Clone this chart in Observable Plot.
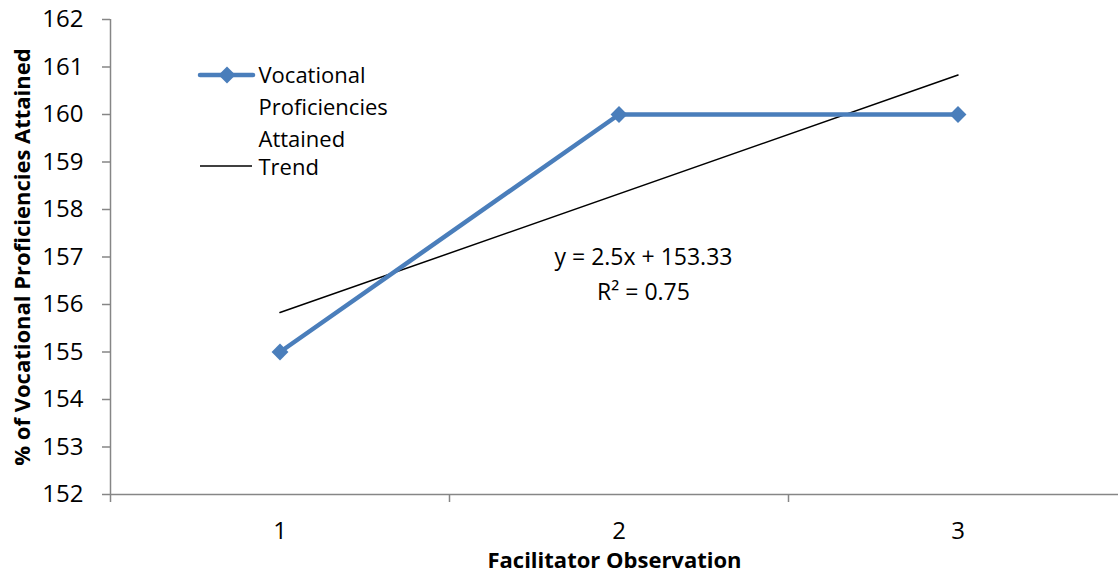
<!DOCTYPE html>
<html>
<head>
<meta charset="utf-8">
<script src="https://cdn.jsdelivr.net/npm/d3@7"></script>
<script src="https://cdn.jsdelivr.net/npm/@observablehq/plot@0.6"></script>
<style>
  html, body { margin: 0; padding: 0; background: #fff; }
  #chart svg { display: block; }
</style>
</head>
<body>
<div id="chart"></div>
<script>
const categories = [1, 2, 3];
const seriesValues = [155, 160, 160];
const trendValues = [155.83, 158.33, 160.83];
const yTicks = [152, 153, 154, 155, 156, 157, 158, 159, 160, 161, 162];
const xTickLabels = ["1", "2", "3"];
const xBandEdges = [0.5, 1.5, 2.5];
const seriesName = ["Vocational", "Proficiencies", "Attained"];
const trendName = "Trend";
const equationLines = ["y = 2.5x + 153.33", "R² = 0.75"];
const yTitle = "% of Vocational Proficiencies Attained";
const xTitle = "Facilitator Observation";

const data = categories.map((c, i) => ({x: c, y: seriesValues[i]}));
const trend = categories.map((c, i) => ({x: c, y: trendValues[i]}));

const font = "'Open Sans', Lato, sans-serif";
const axisColor = "#868686";
const blue = "#4a7ebb";

// legend sample mark (drawn in frame coordinates)
function legendSamples(index, scales, values, dims) {
  const ns = "http://www.w3.org/2000/svg";
  const g = document.createElementNS(ns, "g");
  const mk = (tag, attrs) => {
    const e = document.createElementNS(ns, tag);
    for (const k in attrs) e.setAttribute(k, attrs[k]);
    g.appendChild(e);
    return e;
  };
  const x0 = dims.marginLeft + 90;
  mk("line", {x1: x0, x2: x0 + 53, y1: 75, y2: 75, stroke: blue, "stroke-width": 4.5, "stroke-linecap": "round"});
  mk("path", {d: `M${x0 + 27},${75 - 8.5}L${x0 + 35.5},75L${x0 + 27},${75 + 8.5}L${x0 + 18.5},75Z`, fill: blue});
  mk("line", {x1: x0, x2: x0 + 52, y1: 166, y2: 166, stroke: "#000", "stroke-width": 1.5});
  return g;
}

const chart = Plot.plot({
  width: 1118,
  height: 575,
  marginLeft: 110,
  marginRight: 0,
  marginTop: 19,
  marginBottom: 81,
  style: {fontFamily: font, fontSize: "23px", color: "#000", background: "#fff"},
  x: {type: "linear", domain: [0.5, 3.5], range: [110, 1127]},
  y: {domain: [152, 162]},
  marks: [
    // axes lines
    Plot.ruleY([152], {stroke: axisColor, strokeWidth: 1.5}),
    Plot.ruleX([0.5], {y1: 152, y2: 162, stroke: axisColor, strokeWidth: 1.5}),
    Plot.axisY({ticks: yTicks, tickSize: 8, tickPadding: 19, stroke: axisColor, strokeWidth: 1.5, label: null, fontSize: 24, fill: "#000", tickFormat: d => String(d)}),
    Plot.axisX({ticks: xBandEdges, tickSize: 8, stroke: axisColor, strokeWidth: 1.5, tickFormat: () => "", label: null}),
    Plot.axisX({ticks: categories, tickSize: 0, tickPadding: 27, tickFormat: (d, i) => xTickLabels[i], label: null, fontSize: 24, fill: "#000"}),
    // trend
    Plot.line(trend.filter((d, i) => i === 0 || i === trend.length - 1), {x: "x", y: "y", stroke: "#000", strokeWidth: 1.5}),
    // series
    Plot.line(data, {x: "x", y: "y", stroke: blue, strokeWidth: 4.5, strokeLinejoin: "round"}),
    Plot.dot(data, {x: "x", y: "y", symbol: "diamond2", r: 7.6, fill: blue, stroke: null}),
    // equation annotation
    ...equationLines.map((t, i) => Plot.text([t], {frameAnchor: "top-left", dx: 533, dy: 238 + i * 35, text: d => d, textAnchor: "middle", lineAnchor: "middle", fontSize: 23, fill: "#000"})),
    // legend
    legendSamples,
    ...seriesName.map((t, i) => Plot.text([t], {frameAnchor: "top-left", dx: 148, dy: 56 + i * 32, text: d => d, textAnchor: "start", lineAnchor: "middle", fontSize: 22, fill: "#000"})),
    Plot.text([trendName], {frameAnchor: "top-left", dx: 148, dy: 148, text: d => d, textAnchor: "start", lineAnchor: "middle", fontSize: 22, fill: "#000"}),
    // axis titles
    Plot.text([yTitle], {frameAnchor: "left", dx: -88, rotate: -90, text: d => d, textAnchor: "middle", lineAnchor: "middle", fontWeight: "bold", fontSize: 22, fill: "#000"}),
    Plot.text([xTitle], {frameAnchor: "bottom", dy: 66, text: d => d, textAnchor: "middle", lineAnchor: "middle", fontWeight: "bold", fontSize: 22, fill: "#000"})
  ]
});
document.getElementById("chart").appendChild(chart);
</script>
</body>
</html>
